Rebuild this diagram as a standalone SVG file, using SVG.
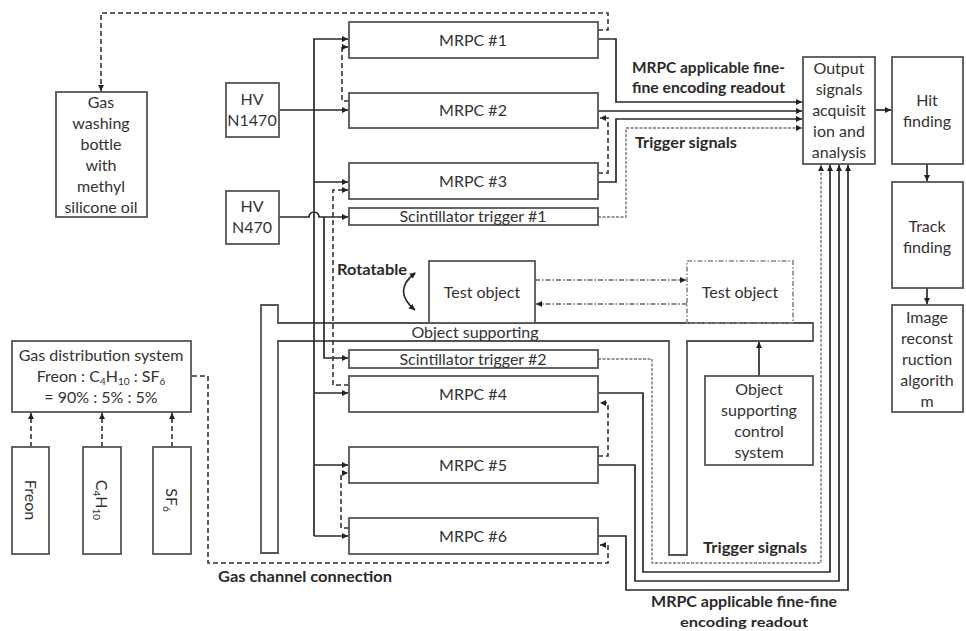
<svg xmlns="http://www.w3.org/2000/svg" width="966" height="631" viewBox="0 0 966 631">
<defs>
<marker id="ah" markerUnits="userSpaceOnUse" markerWidth="7" markerHeight="7" refX="6" refY="3.5" orient="auto"><path d="M0,0.5 L6,3.5 L0,6.5 z" fill="#222"/></marker>
<marker id="ahs" markerUnits="userSpaceOnUse" markerWidth="7" markerHeight="7" refX="1" refY="3.5" orient="auto"><path d="M6,0.5 L0,3.5 L6,6.5 z" fill="#222"/></marker>
<style>
.box{fill:#fff;stroke:#555;stroke-width:1.8}
.sup{fill:none;stroke:#555;stroke-width:1.8}
.dbox{fill:none;stroke:#888;stroke-width:1.6;stroke-dasharray:5,2,1.5,2}
.ln{fill:none;stroke:#2a2a2a;stroke-width:1.7}
.gas{fill:none;stroke:#333;stroke-width:1.6;stroke-dasharray:5,3}
.trg{fill:none;stroke:#777;stroke-width:1.4;stroke-dasharray:3,1.5}
.dd{fill:none;stroke:#666;stroke-width:1.4;stroke-dasharray:5,2,1.5,2}
text{font-family:Lato,"Open Sans","Liberation Sans",sans-serif;fill:#333;font-size:16px}
.c{text-anchor:middle}
.b{font-weight:bold;fill:#2a2a2a;font-size:15px}
.sub{font-size:10px}
</style>
</defs>
<rect width="966" height="631" fill="#fff"/>

<g id="support">
<path class="sup" d="M261,305 H278 V323 H813 V341 H687 V555 H669 V341 H278 V553 H261 Z"/>
<text class="c" x="475" y="338">Object supporting</text>
</g>

<g id="connectors">
<path class="ln" d="M314,536 V39 H348" marker-end="url(#ah)"/>
<path class="ln" d="M279,110 H348" marker-end="url(#ah)"/>
<path class="ln" d="M314,182 H348" marker-end="url(#ah)"/>
<path class="ln" d="M314,393 H348" marker-end="url(#ah)"/>
<path class="ln" d="M314,465 H348" marker-end="url(#ah)"/>
<path class="ln" d="M314,536 H348" marker-end="url(#ah)"/>
<path class="ln" d="M279,217 H309 A5,5 0 0 1 319,217 H348" marker-end="url(#ah)"/>
<path class="ln" d="M324,217 V358 H348" marker-end="url(#ah)"/>
<path class="ln" d="M598,39 H616 V102 H802" marker-end="url(#ah)"/>
<path class="ln" d="M598,111 H802" marker-end="url(#ah)"/>
<path class="ln" d="M598,182 H616 V119 H802" marker-end="url(#ah)"/>
<path class="trg" d="M598,217 H626 V128 H802" marker-end="url(#ah)"/>
<path class="trg" d="M598,359 H652 V563 H821 V165" marker-end="url(#ah)"/>
<path class="ln" d="M598,393 H643 V572 H830 V165" marker-end="url(#ah)"/>
<path class="ln" d="M598,465 H635 V581 H839 V165" marker-end="url(#ah)"/>
<path class="ln" d="M598,536 H626 V590 H848 V165" marker-end="url(#ah)"/>
<path class="gas" d="M192,376 H208 V563 H608 V545 H600" marker-end="url(#ah)"/>
<path class="gas" d="M349,528 H341 V473 H348" marker-end="url(#ah)"/>
<path class="gas" d="M598,456 H608 V403 H600" marker-end="url(#ah)"/>
<path class="gas" d="M349,385 H333 V190 H348" marker-end="url(#ah)"/>
<path class="gas" d="M598,173 H608 V118 H600" marker-end="url(#ah)"/>
<path class="gas" d="M349,101 H342 V47 H348" marker-end="url(#ah)"/>
<path class="gas" d="M598,30 H608 V13 H101 V91" marker-end="url(#ah)"/>
<path class="gas" d="M31,447 V413" marker-end="url(#ah)"/>
<path class="gas" d="M102,447 V413" marker-end="url(#ah)"/>
<path class="gas" d="M172,447 V413" marker-end="url(#ah)"/>
<path class="ln" d="M875,110 H891" marker-end="url(#ah)"/>
<path class="ln" d="M927,164 V181" marker-end="url(#ah)"/>
<path class="ln" d="M927,288 V304" marker-end="url(#ah)"/>
<path class="ln" d="M759,376 V342" marker-end="url(#ah)"/>
<path class="dd" d="M535,280 H686" marker-end="url(#ah)"/>
<path class="dd" d="M687,304 H536" marker-end="url(#ah)"/>
<path class="ln" d="M415,273 Q392,291 415,310" marker-start="url(#ahs)" marker-end="url(#ah)"/>
</g>

<g id="labels">
<text class="b" x="632" y="73" textLength="153" lengthAdjust="spacingAndGlyphs">MRPC applicable fine-</text>
<text class="b" x="632" y="93" textLength="153" lengthAdjust="spacingAndGlyphs">fine encoding readout</text>
<text class="b" x="635" y="148" textLength="102" lengthAdjust="spacingAndGlyphs">Trigger signals</text>
<text class="b" x="703" y="553" textLength="104" lengthAdjust="spacingAndGlyphs">Trigger signals</text>
<text class="b" x="651" y="607" textLength="186" lengthAdjust="spacingAndGlyphs">MRPC applicable fine-fine</text>
<text class="b" x="680" y="627" textLength="128" lengthAdjust="spacingAndGlyphs" style="font-size:14px">encoding readout</text>
<text class="b" x="218" y="582" textLength="174" lengthAdjust="spacingAndGlyphs">Gas channel connection</text>
<text class="b" x="337" y="275" textLength="70" lengthAdjust="spacingAndGlyphs">Rotatable</text>
</g>

<g id="gas-bottle">
<rect class="box" x="56" y="92" width="91" height="125"/>
<text class="c" x="101" y="108">Gas</text>
<text class="c" x="101" y="129">washing</text>
<text class="c" x="101" y="150">bottle</text>
<text class="c" x="101" y="171">with</text>
<text class="c" x="101" y="192">methyl</text>
<text class="c" x="101" y="213">silicone oil</text>
</g>

<g id="hv-n1470">
<rect class="box" x="226" y="83" width="53" height="54"/>
<text class="c" x="252" y="105">HV</text>
<text class="c" x="252" y="126">N1470</text>
</g>
<g id="hv-n470">
<rect class="box" x="226" y="191" width="53" height="53"/>
<text class="c" x="252" y="212">HV</text>
<text class="c" x="252" y="233">N470</text>
</g>

<g id="mrpc1"><rect class="box" x="349" y="22" width="249" height="36"/><text class="c" x="473" y="46">MRPC #1</text></g>
<g id="mrpc2"><rect class="box" x="349" y="93" width="249" height="35"/><text class="c" x="473" y="116">MRPC #2</text></g>
<g id="mrpc3"><rect class="box" x="349" y="163" width="249" height="36"/><text class="c" x="473" y="187">MRPC #3</text></g>
<g id="scint1"><rect class="box" x="349" y="208" width="249" height="17"/><text class="c" x="473" y="222">Scintillator trigger #1</text></g>
<g id="scint2"><rect class="box" x="349" y="350" width="249" height="18"/><text class="c" x="473" y="365">Scintillator trigger #2</text></g>
<g id="mrpc4"><rect class="box" x="349" y="376" width="249" height="36"/><text class="c" x="473" y="400">MRPC #4</text></g>
<g id="mrpc5"><rect class="box" x="349" y="447" width="249" height="36"/><text class="c" x="473" y="471">MRPC #5</text></g>
<g id="mrpc6"><rect class="box" x="349" y="518" width="249" height="36"/><text class="c" x="473" y="542">MRPC #6</text></g>

<g id="test-object">
<rect class="box" x="429" y="261" width="106" height="62"/>
<text class="c" x="482" y="298">Test object</text>
</g>
<g id="test-object-moved">
<rect class="dbox" x="687" y="261" width="106" height="62"/>
<text class="c" x="740" y="298">Test object</text>
</g>

<g id="support-control">
<rect class="box" x="705" y="376" width="108" height="89"/>
<text class="c" x="759" y="395">Object</text>
<text class="c" x="759" y="416">supporting</text>
<text class="c" x="759" y="437">control</text>
<text class="c" x="759" y="458">system</text>
</g>

<g id="output">
<rect class="box" x="803" y="57" width="72" height="107"/>
<text class="c" x="839" y="74">Output</text>
<text class="c" x="839" y="95">signals</text>
<text class="c" x="839" y="116">acquisit</text>
<text class="c" x="839" y="137">ion and</text>
<text class="c" x="839" y="158">analysis</text>
</g>
<g id="hit">
<rect class="box" x="892" y="57" width="71" height="107"/>
<text class="c" x="927" y="106">Hit</text>
<text class="c" x="927" y="127">finding</text>
</g>
<g id="track">
<rect class="box" x="892" y="182" width="71" height="106"/>
<text class="c" x="927" y="232">Track</text>
<text class="c" x="927" y="253">finding</text>
</g>
<g id="image">
<rect class="box" x="892" y="305" width="71" height="107"/>
<text class="c" x="927" y="323">Image</text>
<text class="c" x="927" y="344">reconst</text>
<text class="c" x="927" y="365">ruction</text>
<text class="c" x="927" y="386">algorith</text>
<text class="c" x="927" y="407">m</text>
</g>

<g id="gas-distribution">
<rect class="box" x="12" y="341" width="179" height="71"/>
<text class="c" x="101" y="361">Gas distribution system</text>
<text class="c" x="101" y="382">Freon : C<tspan class="sub" dy="3">4</tspan><tspan dy="-3">H</tspan><tspan class="sub" dy="3">10</tspan><tspan dy="-3"> : SF</tspan><tspan class="sub" dy="3">6</tspan></text>
<text class="c" x="101" y="403">= 90% : 5% : 5%</text>
</g>
<g id="freon">
<rect class="box" x="12" y="447" width="37" height="107"/>
<text class="c" transform="translate(25,500) rotate(90)" x="0" y="0">Freon</text>
</g>
<g id="c4h10">
<rect class="box" x="83" y="447" width="38" height="107"/>
<text class="c" transform="translate(96,500) rotate(90)" x="0" y="0">C<tspan class="sub" dy="3">4</tspan><tspan dy="-3">H</tspan><tspan class="sub" dy="3">10</tspan></text>
</g>
<g id="sf6">
<rect class="box" x="153" y="447" width="38" height="107"/>
<text class="c" transform="translate(166,500) rotate(90)" x="0" y="0">SF<tspan class="sub" dy="3">6</tspan></text>
</g>
</svg>
